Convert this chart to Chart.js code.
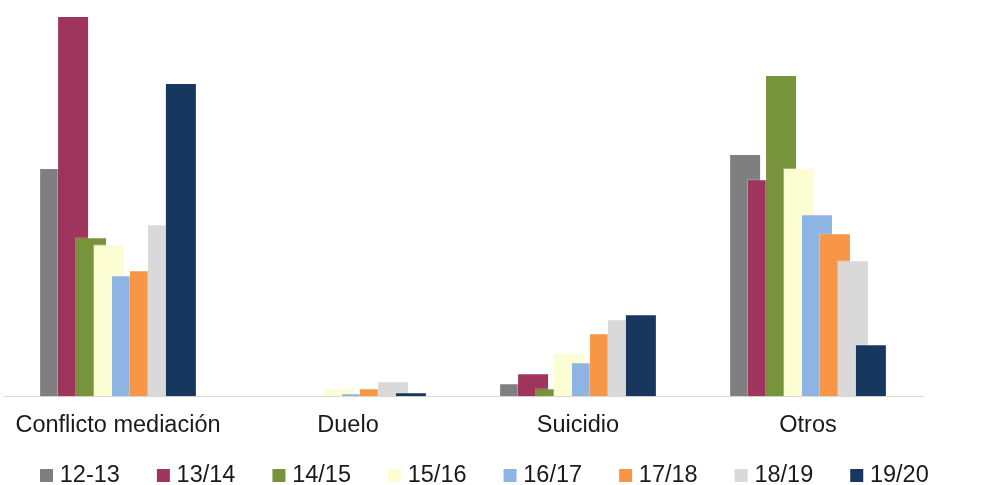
<!DOCTYPE html>
<html>
<head>
<meta charset="utf-8">
<script src="https://cdn.jsdelivr.net/npm/chart.js@4.4.0/dist/chart.umd.min.js"></script>
<style>
  html, body { margin: 0; padding: 0; background: #fff; }
  #wrap { width: 981px; height: 485px; }
</style>
</head>
<body>
<div id="wrap"><canvas id="myChart"></canvas></div>
<script>
const categories = ['Conflicto mediación', 'Duelo', 'Suicidio', 'Otros'];
const seriesNames = ['12-13', '13/14', '14/15', '15/16', '16/17', '17/18', '18/19', '19/20'];

// values (same unit for all)
const v1213 = [228, 0, 13, 242];
const v1314 = [380, 0, 23, 217];
const v1415 = [159, 0, 8, 321];
const v1516 = [152, 8, 43, 228];
const v1617 = [121, 3, 34, 182];
const v1718 = [126, 8, 63, 163];
const v1819 = [172, 15, 77, 136];
const v1920 = [313, 4, 82, 52];

const seriesValues = [v1213, v1314, v1415, v1516, v1617, v1718, v1819, v1920];
const seriesColors = ['#7f7f7f', '#9f345d', '#77933c', '#fdfdd3', '#8eb4e3', '#f79646', '#d9d9d9', '#17375e'];

// legend marker: a 13px square sitting at the right of a wider transparent image,
// so the legend gets the wide spacing of the original without the tall padding
function legendSquare(color) {
    const c = document.createElement('canvas');
    c.width = 40;
    c.height = 13;
    const ctx = c.getContext('2d');
    ctx.fillStyle = color;
    ctx.fillRect(26, 0, 13, 13);
    return c;
}

// Excel style overlap: the later series is drawn on top of the earlier one
const drawInOrder = {
    id: 'drawInOrder',
    beforeDatasetsDraw(chart) {
        chart.getSortedVisibleDatasetMetas().forEach(m => m.controller.draw());
        return false;
    }
};

const datasets = seriesNames.map((name, i) => ({
    label: name,
    data: seriesValues[i],
    backgroundColor: seriesColors[i],
    borderColor: 'rgba(255, 255, 255, 0.3)',
    borderWidth: { top: 1, left: 1, right: 1, bottom: 0 },
    pointStyle: legendSquare(seriesColors[i]),
    categoryPercentage: 0.625,
    barPercentage: 1.78
}));

new Chart(document.getElementById('myChart'), {
    type: 'bar',
    data: { labels: categories, datasets: datasets },
    plugins: [drawInOrder],
    options: {
        responsive: true,
        maintainAspectRatio: false,
        animation: false,
        layout: { padding: { left: 3, right: 0, top: 16, bottom: -12 } },
        scales: {
            x: {
                grid: { display: false },
                border: { display: true, color: '#d9d9d9', width: 1 },
                ticks: {
                    color: '#1a1a1a',
                    padding: 7,
                    font: { family: 'Liberation Sans, Arial, sans-serif', size: 23.5 }
                }
            },
            y: {
                display: false,
                min: 0,
                max: 380
            },
            // empty axis on the right, only to keep the free space there
            yRight: {
                position: 'right',
                display: true,
                grid: { display: false },
                border: { display: false },
                ticks: { display: false },
                afterFit: s => { s.width = 58; }
            }
        },
        plugins: {
            tooltip: { enabled: false },
            legend: {
                position: 'bottom',
                align: 'start',
                labels: {
                    color: '#1a1a1a',
                    usePointStyle: true,
                    pointStyleWidth: 28,
                    padding: 17,
                    font: { family: 'Liberation Sans, Arial, sans-serif', size: 23.5 }
                }
            }
        }
    }
});
</script>
</body>
</html>
